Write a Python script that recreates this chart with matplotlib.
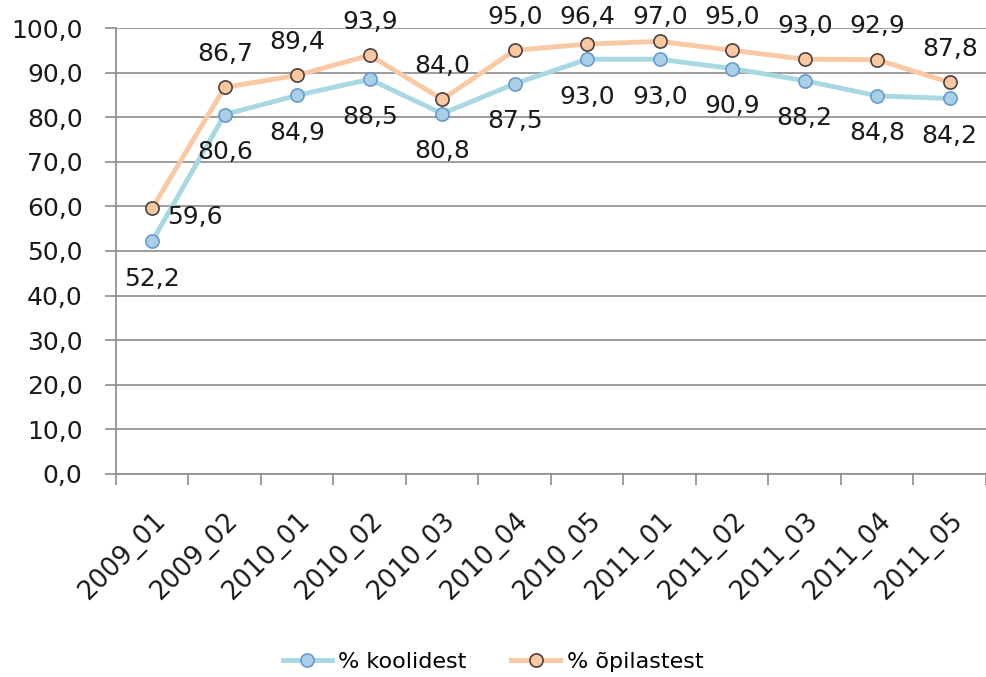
import matplotlib.pyplot as plt

categories = ["2009_01", "2009_02", "2010_01", "2010_02", "2010_03", "2010_04",
              "2010_05", "2011_01", "2011_02", "2011_03", "2011_04", "2011_05"]
koolidest = [52.2, 80.6, 84.9, 88.5, 80.8, 87.5, 93.0, 93.0, 90.9, 88.2, 84.8, 84.2]
opilastest = [59.6, 86.7, 89.4, 93.9, 84.0, 95.0, 96.4, 97.0, 95.0, 93.0, 92.9, 87.8]

plt.rcParams["font.family"] = ["DejaVu Sans"]

fig = plt.figure(figsize=(9.86, 6.77), dpi=100)
ax = fig.add_axes([0.1176, 0.2999, 0.8824, 0.6587])

x = list(range(len(categories)))

ax.plot(x, koolidest, color="#a8d8e2", linewidth=3.5, marker="o", markersize=9.5,
        markerfacecolor="#a9d0e6", markeredgecolor="#6a9bd0", markeredgewidth=1.2,
        label="% koolidest", zorder=3)
ax.plot(x, opilastest, color="#fac9a4", linewidth=3.5, marker="o", markersize=9.5,
        markerfacecolor="#fac8a0", markeredgecolor="#4a4040", markeredgewidth=1.2,
        label="% õpilastest", zorder=3)

ax.set_xlim(-0.5, len(categories) - 0.5)
ax.set_ylim(0, 100)


def fmt(v):
    return f"{v:.1f}".replace(".", ",")


H = fig.bbox.height
for i, v in enumerate(koolidest):
    ax.annotate(fmt(v), (i, v), xytext=(0, -27), textcoords="offset points",
                ha="center", va="center", fontsize=18, color="#1a1a1a")
for i, v in enumerate(opilastest):
    if i == 0:
        ax.annotate(fmt(v), (i, v), xytext=(11, -6), textcoords="offset points",
                    ha="left", va="center", fontsize=18, color="#1a1a1a")
    else:
        # labels are kept inside the chart area, like Excel does
        py = H - ax.transData.transform((i, v))[1]
        off = min(24, (py - 17) * 72 / fig.dpi)
        ax.annotate(fmt(v), (i, v), xytext=(0, off), textcoords="offset points",
                    ha="center", va="center", fontsize=18, color="#1a1a1a")

ax.set_yticks(range(0, 101, 10))
ax.set_yticklabels([fmt(v) for v in range(0, 101, 10)])
ax.set_xticks([i - 0.5 for i in range(len(categories) + 1)], minor=False)
ax.set_xticklabels([])
ax.set_xticks(x, minor=True)
ax.set_xticklabels(categories, minor=True, rotation=45, ha="right",
                   rotation_mode="anchor", fontsize=18.5, color="#1a1a1a")
ax.tick_params(axis="x", which="minor", length=0, pad=24)
ax.tick_params(axis="x", which="major", length=8, color="#8c8c8c", width=1.2)
ax.tick_params(axis="y", length=8, color="#8c8c8c", width=1.2, pad=16,
               labelsize=18, labelcolor="#1a1a1a")

ax.grid(axis="y", color="#8c8c8c", linewidth=1.2)
ax.set_axisbelow(True)
for s in ["top", "right"]:
    ax.spines[s].set_visible(False)
for s in ["left", "bottom"]:
    ax.spines[s].set_color("#8c8c8c")
    ax.spines[s].set_linewidth(1.2)

fig.legend(loc="center", bbox_to_anchor=(0.5, 0.022), ncol=2, frameon=False,
           fontsize=16, handlelength=2.2, columnspacing=2.0, handletextpad=0.3)

fig.savefig("out.png", dpi=100)
